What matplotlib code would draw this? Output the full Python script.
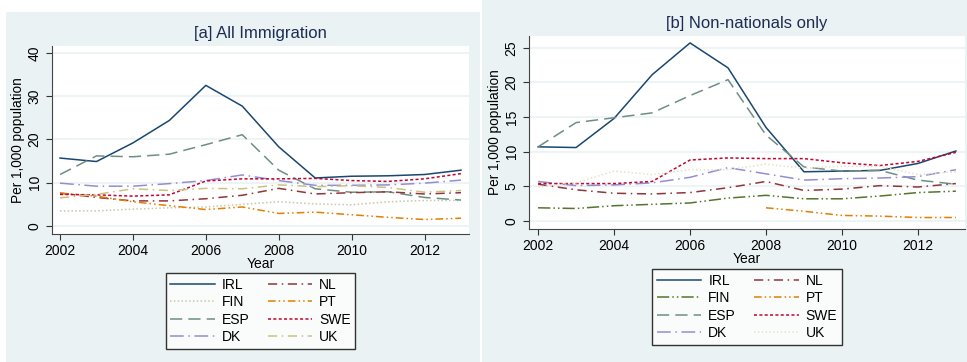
import matplotlib.pyplot as plt
from matplotlib.patches import Rectangle
from matplotlib.lines import Line2D

plt.rcParams['font.family'] = ['Liberation Sans', 'DejaVu Sans']

years = list(range(2002, 2014))
countries = ["IRL", "FIN", "ESP", "DK", "NL", "PT", "SWE", "UK"]

# [a] all immigration, per 1,000 population
all_irl = [15.7, 14.9, 19.2, 24.4, 32.5, 27.7, 18.3, 11.1, 11.5, 11.6, 11.9, 12.9]
all_esp = [11.9, 16.2, 16.0, 16.6, 18.8, 21.1, 12.9, 8.6, 7.8, 7.9, 6.6, 6.0]
all_dk = [9.9, 9.2, 9.2, 9.8, 10.5, 11.8, 10.5, 9.4, 9.4, 9.5, 9.9, 10.6]
all_swe = [7.3, 7.2, 6.9, 7.2, 10.4, 10.9, 10.9, 11.0, 10.5, 10.3, 10.9, 12.1]
all_uk = [6.5, 7.3, 8.6, 8.2, 8.7, 8.6, 9.5, 9.1, 9.3, 8.9, 7.8, 8.2]
all_nl = [7.6, 6.6, 5.8, 5.8, 6.3, 7.1, 8.7, 7.4, 7.7, 7.9, 7.4, 7.7]
all_pt = [7.6, 6.9, 5.6, 4.7, 3.8, 4.4, 2.9, 3.2, 2.6, 2.0, 1.5, 1.8]
all_fin = [3.5, 3.5, 3.9, 4.2, 4.4, 5.0, 5.6, 5.1, 4.9, 5.6, 5.9, 5.9]

# [b] non-nationals only
nn_irl = [10.7, 10.6, 14.8, 21.1, 25.7, 22.1, 13.5, 7.1, 7.2, 7.3, 8.3, 10.1]
nn_esp = [10.7, 14.2, 14.9, 15.6, 18.1, 20.4, 12.4, 7.8, 7.2, 7.3, 5.9, 5.3]
nn_swe = [5.4, 5.4, 5.4, 5.7, 8.8, 9.1, 9.0, 9.0, 8.4, 8.0, 8.6, 9.9]
nn_dk = [5.7, 5.1, 5.2, 5.5, 6.3, 7.7, 6.8, 5.9, 6.1, 6.2, 6.4, 7.4]
nn_uk = [4.9, 5.5, 7.2, 6.7, 7.4, 7.4, 8.2, 7.6, 7.9, 7.9, 6.7, 7.1]
nn_nl = [5.3, 4.5, 4.0, 3.9, 4.1, 4.8, 5.7, 4.4, 4.6, 5.1, 4.9, 5.4]
nn_fin = [1.9, 1.8, 2.2, 2.4, 2.6, 3.3, 3.7, 3.2, 3.2, 3.6, 4.1, 4.3]
nn_pt_years = [2008, 2009, 2010, 2011, 2012, 2013]
nn_pt = [1.9, 1.4, 0.8, 0.7, 0.5, 0.5]

bg = "#EAF2F3"
navy = "#1A476F"
styles_a = {
    "IRL": (navy, "-"),
    "FIN": ("#C9C8A8", (0, (1, 1.5))),
    "ESP": ("#6E8E84", (0, (8, 4))),
    "DK": ("#938DD2", (0, (9, 3, 1, 3))),
    "NL": ("#90353B", (0, (6, 3, 1, 3))),
    "PT": ("#E37E00", (0, (5, 2, 1, 2, 1, 2))),
    "SWE": ("#C10534", (0, (2, 1.5))),
    "UK": ("#CAC27E", (0, (6, 3, 1, 3))),
}
styles_b = dict(styles_a)
styles_b["FIN"] = ("#55752F", (0, (8, 2, 1, 2, 1, 2)))
styles_b["UK"] = ("#E6E2C4", (0, (1, 1.5)))

fig = plt.figure(figsize=(9.67, 3.62), dpi=100, facecolor="white")
W, H = 967, 362
fig.patches.append(Rectangle((6 / W, 0), 474 / W, 350 / H, transform=fig.transFigure,
                             facecolor=bg, edgecolor="none", zorder=-10))
fig.patches.append(Rectangle((482 / W, 0), 485 / W, 1, transform=fig.transFigure,
                             facecolor=bg, edgecolor="none", zorder=-10))


def make_panel(rect, title, series, styles, xlim, ylim, yticks, legend_top):
    ax = fig.add_axes(rect)
    ax.set_facecolor("white")
    for name in countries:
        xs, ys = series[name]
        color, ls = styles[name]
        ax.plot(xs, ys, color=color, linestyle=ls, linewidth=1.1)
    ax.set_xlim(*xlim)
    ax.set_ylim(*ylim)
    ax.set_xticks(range(2002, 2013, 2))
    ax.set_yticks(yticks)
    ax.tick_params(axis="y", labelrotation=90)
    for lab in ax.get_yticklabels():
        lab.set_va("center")
    ax.tick_params(labelsize=10, color="#333333", length=4)
    ax.grid(axis="y", color=bg, linewidth=1.2)
    ax.set_axisbelow(True)
    for s in ["top", "right"]:
        ax.spines[s].set_visible(False)
    for s in ["left", "bottom"]:
        ax.spines[s].set_color("#444444")
    ax.set_xlabel("Year", fontsize=10, labelpad=-1)
    ax.set_ylabel("Per 1,000 population", fontsize=9.8, labelpad=2)
    ax.set_title(title, fontsize=12, color="#1E2C53", pad=6)
    handles = [Line2D([], [], color=styles[n][0], linestyle=styles[n][1], linewidth=1.1)
               for n in countries]
    leg = fig.legend(handles, countries, ncol=2, loc="upper center",
                     bbox_to_anchor=legend_top, bbox_transform=fig.transFigure,
                     fancybox=False, edgecolor="black", fontsize=10,
                     handlelength=3.2, handletextpad=0.5, columnspacing=1.3,
                     labelspacing=0.25, borderpad=0.35, borderaxespad=0)
    leg.get_frame().set_linewidth(1.0)
    return ax


series_a = {"IRL": (years, all_irl), "FIN": (years, all_fin), "ESP": (years, all_esp),
            "DK": (years, all_dk), "NL": (years, all_nl), "PT": (years, all_pt),
            "SWE": (years, all_swe), "UK": (years, all_uk)}
series_b = {"IRL": (years, nn_irl), "FIN": (years, nn_fin), "ESP": (years, nn_esp),
            "DK": (years, nn_dk), "NL": (years, nn_nl), "PT": (nn_pt_years, nn_pt),
            "SWE": (years, nn_swe), "UK": (years, nn_uk)}

make_panel([52 / W, 128 / H, 417 / W, 188 / H], "[a] All Immigration", series_a, styles_a,
           (2001.78, 2013.22), (-1.85, 41.6), [0, 10, 20, 30, 40],
           ((168 + 353) / 2 / W, 1 - 273 / H))
make_panel([529 / W, 133 / H, 436 / W, 193 / H], "[b] Non-nationals only", series_b, styles_b,
           (2001.76, 2013.24), (-1.16, 26.7), [0, 5, 10, 15, 20, 25],
           ((650 + 844) / 2 / W, 1 - 269 / H))

fig.savefig("out.png", dpi=100, facecolor="white")
